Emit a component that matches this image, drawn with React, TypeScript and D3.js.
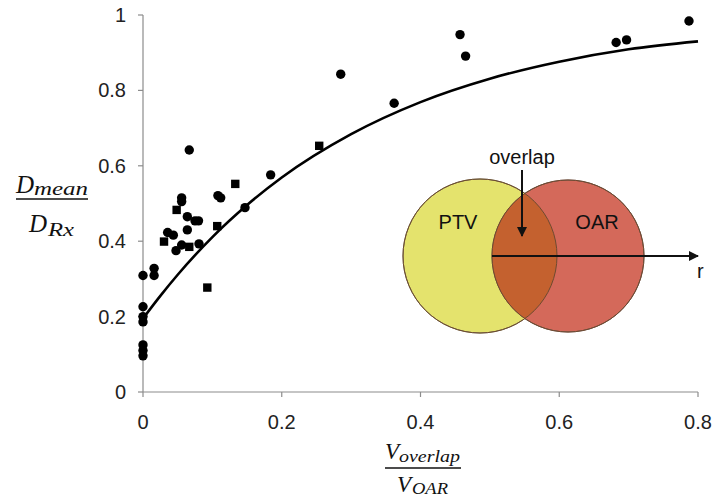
import React from "react";
import * as d3 from "d3";

// ---- data ----
const circleX = [0, 0, 0, 0, 0, 0, 0, 0.016, 0.016, 0.0355, 0.0437, 0.0476, 0.0557, 0.0557, 0.0557, 0.0639, 0.0639, 0.0667, 0.075, 0.08, 0.0807, 0.108, 0.112, 0.147, 0.184, 0.285, 0.362, 0.457, 0.465, 0.682, 0.697, 0.787];
const circleY = [0.309, 0.226, 0.2, 0.186, 0.125, 0.11, 0.096, 0.328, 0.309, 0.423, 0.416, 0.375, 0.515, 0.505, 0.39, 0.465, 0.43, 0.642, 0.454, 0.454, 0.393, 0.521, 0.515, 0.489, 0.576, 0.843, 0.766, 0.948, 0.891, 0.927, 0.934, 0.984];

const squareX = [0.0303, 0.0485, 0.0667, 0.0927, 0.107, 0.133, 0.254];
const squareY = [0.399, 0.483, 0.385, 0.277, 0.44, 0.552, 0.653];

const fitX = [0, 0.025, 0.05, 0.1, 0.15, 0.2, 0.3, 0.4, 0.5, 0.6, 0.7, 0.8];
const fitY = [0.195, 0.255, 0.311, 0.411, 0.496, 0.569, 0.684, 0.769, 0.831, 0.876, 0.909, 0.93];

const xTicks = [0, 0.2, 0.4, 0.6, 0.8];
const xTickLabels = ["0", "0.2", "0.4", "0.6", "0.8"];
const yTicks = [0, 0.2, 0.4, 0.6, 0.8, 1];
const yTickLabels = ["0", "0.2", "0.4", "0.6", "0.8", "1"];

const W = 714;
const H = 497;

export default function App() {
  const x = d3.scaleLinear().domain([0, 0.8]).range([143, 698]);
  const y = d3.scaleLinear().domain([0, 1]).range([392, 15]);

  const fitPts: [number, number][] = fitX.map((v, i) => [v, fitY[i]]);
  const line = d3
    .line<[number, number]>()
    .x((d) => x(d[0]))
    .y((d) => y(d[1]))
    .curve(d3.curveMonotoneX);

  const axisColor = "#8c8c8c";
  const sans = "'Liberation Sans', Arial, sans-serif";
  const serif = "'Liberation Serif', 'Times New Roman', serif";

  // inset Venn diagram
  const ptv = { cx: 480, cy: 256, r: 77 };
  const oar = { cx: 568, cy: 256, r: 76 };

  return (
    <svg
      width={W}
      height={H}
      style={{ position: "absolute", left: 0, top: 0, background: "#fff" }}
    >
      <defs>
        <clipPath id="ptvClip">
          <circle cx={ptv.cx} cy={ptv.cy} r={ptv.r} />
        </clipPath>
        <marker id="arr" viewBox="0 0 10 10" refX="9" refY="5" markerWidth="5" markerHeight="5" orient="auto">
          <path d="M0,0 L10,5 L0,10 z" fill="#111" />
        </marker>
      </defs>
      <rect width={W} height={H} fill="#fff" />

      {/* axes */}
      <line x1={x(0)} x2={x(0.8)} y1={y(0)} y2={y(0)} stroke={axisColor} strokeWidth={1.2} />
      <line x1={x(0)} x2={x(0)} y1={y(0)} y2={y(1)} stroke={axisColor} strokeWidth={1.2} />
      {xTicks.map((t, i) => (
        <g key={"xt" + i}>
          <line x1={x(t)} x2={x(t)} y1={y(0)} y2={y(0) + 5} stroke={axisColor} strokeWidth={1.2} />
          <text x={x(t)} y={429} textAnchor="middle" fontFamily={sans} fontSize={20} fill="#222">
            {xTickLabels[i]}
          </text>
        </g>
      ))}
      {yTicks.map((t, i) => (
        <g key={"yt" + i}>
          <line x1={x(0) - 5} x2={x(0)} y1={y(t)} y2={y(t)} stroke={axisColor} strokeWidth={1.2} />
          <text x={126} y={y(t) + 7} textAnchor="end" fontFamily={sans} fontSize={20} fill="#222">
            {yTickLabels[i]}
          </text>
        </g>
      ))}

      {/* fit curve */}
      <path d={line(fitPts) || ""} fill="none" stroke="#000" strokeWidth={2.6} />

      {/* data */}
      {circleX.map((v, i) => (
        <circle key={"c" + i} cx={x(v)} cy={y(circleY[i])} r={4.7} fill="#000" />
      ))}
      {squareX.map((v, i) => (
        <rect key={"s" + i} x={x(v) - 4.2} y={y(squareY[i]) - 4.2} width={8.4} height={8.4} fill="#000" />
      ))}

      {/* y axis title */}
      <text x={16} y={193} fontFamily={serif} fontStyle="italic" fontSize={25} fill="#111">D</text>
      <text x={34} y={195} fontFamily={serif} fontStyle="italic" fontSize={19} fill="#111" textLength={54} lengthAdjust="spacingAndGlyphs">mean</text>
      <line x1={16} x2={88} y1={199} y2={199} stroke="#111" strokeWidth={1.6} />
      <text x={29} y={232} fontFamily={serif} fontStyle="italic" fontSize={25} fill="#111">D</text>
      <text x={48} y={236} fontFamily={serif} fontStyle="italic" fontSize={18} fill="#111" textLength={26} lengthAdjust="spacingAndGlyphs">Rx</text>

      {/* x axis title */}
      <text x={385} y={459} fontFamily={serif} fontStyle="italic" fontSize={23} fill="#111">V</text>
      <text x={399} y={462} fontFamily={serif} fontStyle="italic" fontSize={17} fill="#111" textLength={61} lengthAdjust="spacingAndGlyphs">overlap</text>
      <line x1={385} x2={461} y1={468} y2={468} stroke="#111" strokeWidth={1.6} />
      <text x={397} y={492} fontFamily={serif} fontStyle="italic" fontSize={23} fill="#111">V</text>
      <text x={412} y={494} fontFamily={serif} fontStyle="italic" fontSize={16} fill="#111" textLength={36} lengthAdjust="spacingAndGlyphs">OAR</text>

      {/* Venn inset */}
      <circle cx={ptv.cx} cy={ptv.cy} r={ptv.r} fill="#e4e36d" stroke="#6e6a4a" strokeWidth={1} />
      <circle cx={oar.cx} cy={oar.cy} r={oar.r} fill="#d4695a" stroke="#6e5048" strokeWidth={1} />
      <circle cx={oar.cx} cy={oar.cy} r={oar.r} fill="#c4612f" clipPath="url(#ptvClip)" />
      <circle cx={ptv.cx} cy={ptv.cy} r={ptv.r} fill="none" stroke="#6e4a30" strokeWidth={1} />
      <circle cx={oar.cx} cy={oar.cy} r={oar.r} fill="none" stroke="#6e4a30" strokeWidth={1} />

      <line x1={oar.cx - oar.r} x2={698} y1={256} y2={256} stroke="#111" strokeWidth={2} markerEnd="url(#arr)" />
      <line x1={522} x2={522} y1={170} y2={236} stroke="#111" strokeWidth={2} markerEnd="url(#arr)" />

      <text x={522} y={164} textAnchor="middle" fontFamily={sans} fontSize={20} fill="#111">overlap</text>
      <text x={458} y={229} textAnchor="middle" fontFamily={sans} fontSize={20} fill="#111">PTV</text>
      <text x={597} y={229} textAnchor="middle" fontFamily={sans} fontSize={20} fill="#111">OAR</text>
      <text x={697} y={278} fontFamily={sans} fontSize={20} fill="#111">r</text>
    </svg>
  );
}
